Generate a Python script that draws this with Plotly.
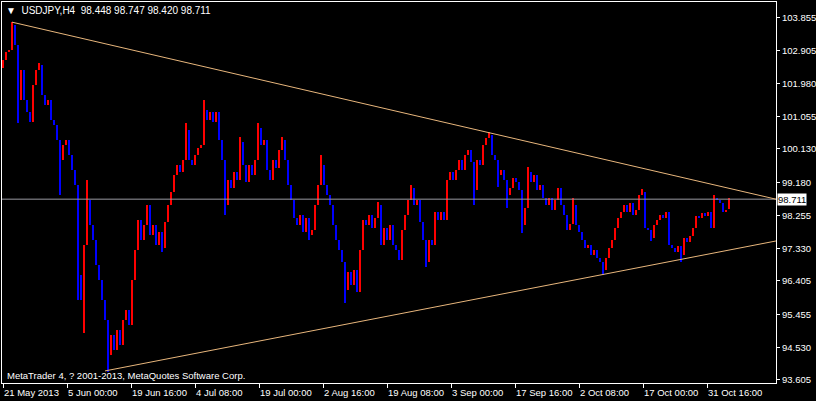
import plotly.graph_objects as go

# ---------------- data ----------------
symbol_title = "USDJPY,H4"
last_bar = [98.448, 98.747, 98.420, 98.711]   # O H L C of the latest bar
current_price = 98.711

bar_step = 3          # each plotted candle stands for a 3-bar slice of the H4 series
first_open = 102.41

close = [
    102.64, 102.87, 102.92, 103.63, 103.06, 101.51, 102.36, 101.51, 101.17, 100.89,
    101.93, 102.36, 102.50, 101.65, 101.37, 101.51, 100.95, 100.80, 100.38, 99.82,
    100.24, 100.38, 99.96, 99.53, 99.11, 96.57, 95.86, 97.42, 98.69, 97.98,
    97.56, 96.85, 96.43, 95.86, 95.30, 94.31, 94.88, 94.45, 95.02, 94.59,
    95.30, 95.58, 95.16, 96.43, 97.28, 98.12, 97.56, 97.98, 98.55, 97.70,
    97.98, 97.42, 97.78, 97.33, 98.07, 98.55, 98.91, 99.39, 99.68, 99.48,
    99.82, 100.66, 99.82, 99.68, 99.96, 100.16, 100.24, 101.23, 100.95, 101.17,
    100.89, 101.17, 100.38, 99.82, 98.55, 99.25, 99.03, 99.48, 99.25, 100.32,
    99.68, 99.20, 99.68, 99.39, 99.82, 100.72, 100.24, 100.38, 99.53, 99.25,
    99.82, 99.59, 100.10, 100.38, 99.82, 99.11, 98.69, 98.18, 97.98, 98.26,
    97.78, 98.18, 97.70, 97.84, 98.55, 99.11, 99.68, 99.11, 98.83, 98.55,
    97.98, 97.56, 97.28, 96.94, 96.15, 96.65, 96.29, 96.71, 96.09, 97.28,
    98.12, 97.98, 98.26, 97.90, 98.18, 98.55, 97.42, 97.90, 97.56, 97.98,
    97.42, 97.28, 96.99, 97.84, 98.26, 98.69, 99.03, 98.55, 98.69, 98.07,
    97.56, 96.94, 97.56, 97.42, 98.35, 98.12, 98.35, 98.12, 99.25, 99.48,
    99.25, 99.53, 99.82, 99.53, 99.96, 100.10, 99.76, 98.97, 99.82, 99.68,
    100.24, 100.44, 100.52, 99.96, 99.82, 99.39, 99.53, 99.25, 98.83, 99.03,
    99.31, 99.20, 98.97, 97.98, 98.46, 99.48, 99.20, 99.39, 98.97, 99.11,
    98.74, 98.55, 98.74, 98.40, 98.69, 99.03, 98.55, 98.26, 97.84, 98.01,
    98.55, 97.98, 97.78, 97.56, 97.33, 97.42, 97.13, 97.28, 97.05, 96.94,
    96.71, 97.05, 97.33, 97.56, 97.90, 98.18, 98.35, 98.55, 98.35, 98.60,
    98.26, 98.40, 98.83, 98.91, 97.90, 97.84, 97.61, 97.98, 98.12, 98.26,
    98.18, 98.35, 97.42, 97.33, 97.22, 97.39, 97.13, 97.61, 97.50, 97.67,
    97.90, 98.24, 98.18, 98.32, 98.24, 98.35, 97.90, 98.74, 98.69, 98.60,
    98.35, 98.40, 98.711,
]

# wick extremes (candle index -> price)
high_spikes = {3: 103.71, 12: 102.56, 28: 99.25, 61: 100.86, 67: 101.51, 79: 100.47,
               85: 100.86, 93: 100.47, 106: 99.96, 125: 98.63, 136: 99.11, 162: 100.61,
               175: 99.62, 190: 98.74, 213: 98.99, 237: 98.83}
low_spikes = {5: 100.86, 19: 98.83, 25: 95.86, 27: 94.94, 35: 93.83, 53: 97.22,
              74: 98.26, 102: 97.56, 114: 95.78, 141: 96.80, 157: 98.55, 165: 99.05,
              168: 98.46, 173: 97.75, 200: 96.57, 216: 97.53, 226: 96.94}

# trend lines: (bar number, price) end points
upper_trend_bars = [9, 773]
upper_trend_prices = [103.71, 98.71]
lower_trend_bars = [102, 773]
lower_trend_prices = [93.86, 97.53]

# axis ticks
x_tick_bars = [0, 64, 128, 192, 256, 320, 384, 448, 512, 576, 640, 704]
x_tick_labels = ["21 May 2013", "5 Jun 00:00", "19 Jun 16:00", "4 Jul 08:00", "19 Jul 00:00",
                 "2 Aug 16:00", "19 Aug 08:00", "3 Sep 00:00", "17 Sep 16:00", "2 Oct 08:00",
                 "17 Oct 00:00", "31 Oct 16:00"]
y_tick_labels = ["103.855", "102.905", "101.980", "101.055", "100.130", "99.180",
                 "98.255", "97.330", "96.405", "95.455", "94.530", "93.605"]

# ---------------- build OHLC ----------------
n = len(close)
x_bars = [i * bar_step for i in range(n)]
opens = [first_open] + close[:-1]
opens[-1] = last_bar[0]
highs, lows = [], []
for i in range(n):
    highs.append(max(opens[i], close[i], high_spikes.get(i, -1e9)))
    lows.append(min(opens[i], close[i], low_spikes.get(i, 1e9)))
highs[-1] = last_bar[1]
lows[-1] = last_bar[2]
colors = ["#FF0000" if c >= o else "#0000FF" for o, c in zip(opens, close)]

FONT = "Liberation Sans"
FS = 9.5
fig = go.Figure()

fig.add_trace(go.Scatter(x=[-1, 773], y=[current_price, current_price], mode="lines",
                         line=dict(color="#9A9AA2", width=1), hoverinfo="skip"))
# each candle drawn as a floating column from low to high (1px-wide candles look like this)
fig.add_trace(go.Bar(x=x_bars, y=[h - l for h, l in zip(highs, lows)], base=lows,
                     width=2.5, marker=dict(color=colors, line=dict(width=0)),
                     hoverinfo="skip"))
fig.add_trace(go.Scatter(x=upper_trend_bars, y=upper_trend_prices, mode="lines",
                         line=dict(color="#E8B67C", width=1), hoverinfo="skip"))
fig.add_trace(go.Scatter(x=lower_trend_bars, y=lower_trend_prices, mode="lines",
                         line=dict(color="#E8B67C", width=1), hoverinfo="skip"))

annotations = []
for xb, lab in zip(x_tick_bars, x_tick_labels):
    annotations.append(dict(x=xb, y=0, xref="x", yref="paper", text=lab, showarrow=False,
                            xanchor="left", yanchor="middle", xshift=-1, yshift=-9,
                            font=dict(family=FONT, size=FS, color="white")))
for lab in y_tick_labels:
    annotations.append(dict(x=1, y=float(lab), xref="paper", yref="y", text=lab,
                            showarrow=False, xanchor="left", yanchor="middle", xshift=4,
                            font=dict(family=FONT, size=FS, color="white")))
annotations.append(dict(x=0, y=1, xref="paper", yref="paper",
                        text="▼  " + symbol_title + "  " + " ".join(f"{v:.3f}" for v in last_bar),
                        showarrow=False, xanchor="left", yanchor="middle", xshift=2, yshift=-8,
                        font=dict(family=FONT, size=10, color="white")))
annotations.append(dict(x=0, y=0, xref="paper", yref="paper",
                        text="MetaTrader 4, ? 2001-2013, MetaQuotes Software Corp.",
                        showarrow=False, xanchor="left", yanchor="middle", xshift=3, yshift=8,
                        font=dict(family=FONT, size=FS, color="white")))
annotations.append(dict(x=1, y=current_price, xref="paper", yref="y", text=f"{current_price:.3f}",
                        showarrow=False, xanchor="left", yanchor="middle", xshift=1,
                        bgcolor="white", borderpad=0,
                        font=dict(family=FONT, size=FS, color="black")))

fig.update_layout(
    width=816, height=401,
    margin=dict(l=2, r=40, t=2, b=18),
    paper_bgcolor="black", plot_bgcolor="black",
    showlegend=False, bargap=0,
    annotations=annotations,
    xaxis=dict(range=[-1, 773], showgrid=False, zeroline=False,
               showline=True, mirror=True, linecolor="white", linewidth=1,
               tickvals=x_tick_bars, ticks="outside", ticklen=4, tickcolor="white",
               showticklabels=False),
    yaxis=dict(range=[93.519, 104.279], side="right", showgrid=False, zeroline=False,
               showline=True, mirror=True, linecolor="white", linewidth=1,
               tickvals=[float(t) for t in y_tick_labels],
               ticks="outside", ticklen=3, tickcolor="white", showticklabels=False),
)

fig.write_html("out.html", config={"displayModeBar": False},
               post_script="document.body.style.margin='0';document.body.style.overflow='hidden';")
